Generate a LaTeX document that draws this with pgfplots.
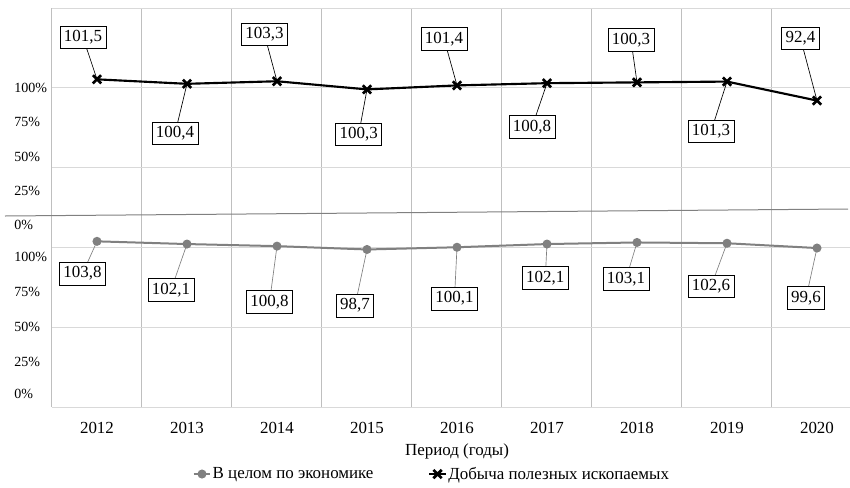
\documentclass[border=0pt]{standalone}
\usepackage{fontspec}
\setmainfont{Liberation Serif}
\usepackage{pgfplots}
\pgfplotsset{compat=1.18}
\usepackage{pgfplotstable}

\definecolor{econ}{HTML}{808080}
\definecolor{vgrid}{HTML}{BFBFBF}
\definecolor{hgrid}{HTML}{D9D9D9}

\newcommand\lfont{\fontsize{12.7}{15}\selectfont}
\newcommand\yfont{\fontsize{10.5}{12}\selectfont}

% x = year index, econ / mining = the two indices,
% ex,ey / mx,my = where the value boxes sit
\pgfplotstableread{
x econ  mining ex     ey   mx     my
0 103.8 101.5  -0.161 83.6 -0.156 231.6
1 102.1 100.4   0.822 73.3  0.867 171.4
2 100.8 103.3   1.917 65.8  1.861 233.4
3 98.7  100.3   2.867 63.5  2.908 170.9
4 100.1 101.4   3.972 67.9  3.856 230.7
5 102.1 100.8   4.981 81.0  4.833 175.4
6 103.1 100.3   5.878 80.2  5.933 230.0
7 102.6 101.3   6.822 75.5  6.822 172.6
8 99.6  92.4    7.878 68.3  7.817 230.9
}\data

\pgfplotsset{
  valbox/.style={
    nodes near coords={\pgfmathprintnumber[fixed,fixed zerofill,precision=1,use comma,assume math mode=true]{\pgfplotspointmeta}},
    every node near coord/.style={draw=black, fill=white, text=black, line width=0.6pt,
      inner xsep=3pt, inner ysep=0pt, minimum height=17pt, anchor=center, font=\lfont},
  },
}

\begin{document}
\begin{tikzpicture}
\begin{axis}[
    at={(0pt,0pt)}, anchor=south west,
    scale only axis,
    width=607.5pt, height=299.25pt,
    xmin=-0.5, xmax=8.5, ymin=0, ymax=250,
    axis line style={draw=none},
    tick style={draw=none},
    xtick={0,1,2,3,4,5,6,7,8},
    xticklabels={2012,2013,2014,2015,2016,2017,2018,2019,2020},
    xticklabel style={font=\lfont, anchor=center, yshift=-15.75pt},
    extra x ticks={-0.5,0.5,1.5,2.5,3.5,4.5,5.5,6.5,7.5},
    extra x tick labels={},
    extra x tick style={grid=major, major grid style={vgrid, line width=0.75pt}},
    ytick={8,28.4,50.3,72.2,94.2,113.8,135.3,156.8,178.4,199.9},
    yticklabels={0\%,25\%,50\%,75\%,100\%,0\%,25\%,50\%,75\%,100\%},
    yticklabel style={font=\yfont, anchor=west, inner sep=0pt, xshift=-28.5pt},
    extra y ticks={0,50,100,150,200,250},
    extra y tick labels={},
    extra y tick style={grid=major, major grid style={hgrid, line width=0.75pt}},
    xlabel={Период (годы)},
    xlabel style={font=\lfont, at={(axis description cs:0.5,0)}, anchor=center, yshift=-33pt},
    legend style={at={(axis description cs:0.4685,-0.168)}, anchor=center,
      draw=none, fill=none, font=\lfont, inner sep=0pt,
      nodes={inner xsep=1pt},
      /tikz/every even column/.append style={column sep=40pt}},
    legend columns=2,
    legend cell align=left,
    legend image code/.code={\draw[mark repeat=2,mark phase=2,#1]
      plot coordinates {(0cm,0cm) (0.22cm,0cm) (0.44cm,0cm)};},
  ]

  % leader lines
  \addplot[forget plot, econ, line width=0.5pt, no markers,
    quiver={u=\thisrow{ex}-\thisrow{x}, v=\thisrow{ey}-\thisrow{econ}}]
    table[x=x, y=econ] {\data};
  \addplot[forget plot, black, line width=0.5pt, no markers,
    quiver={u=\thisrow{mx}-\thisrow{x}, v=\thisrow{my}-\thisrow{econ}-\thisrow{mining}}]
    table[x=x, y expr=\thisrow{econ}+\thisrow{mining}] {\data};

  % series (stacked line chart: mining sits on top of economy)
  \addplot[econ, line width=1.5pt, mark=*, mark size=2.6pt]
    table[x=x, y=econ] {\data};
  \addlegendentry{В целом по экономике}
  \addplot[black, line width=1.6pt, mark=x, mark size=4.4pt, mark options={line width=2pt}]
    table[x=x, y expr=\thisrow{econ}+\thisrow{mining}] {\data};
  \addlegendentry{Добыча полезных ископаемых}

  % value boxes
  \addplot[forget plot, draw=none, no markers, valbox, point meta=\thisrow{econ}]
    table[x=ex, y=ey] {\data};
  \addplot[forget plot, draw=none, no markers, valbox, point meta=\thisrow{mining}]
    table[x=mx, y=my] {\data};
\end{axis}
\draw[econ, line width=0.75pt] (-35.25pt,143.25pt) -- (597pt,148.5pt);
\pgfresetboundingbox
\useasboundingbox (-39pt,-60pt) rectangle (598.5pt,305.25pt);
\end{tikzpicture}
\end{document}
